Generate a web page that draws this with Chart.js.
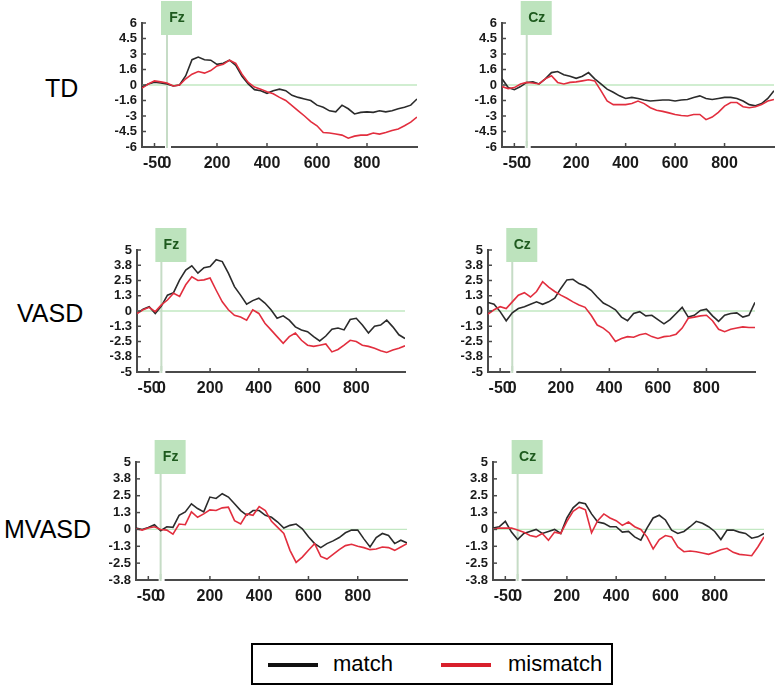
<!DOCTYPE html>
<html><head><meta charset="utf-8">
<script src="https://cdn.jsdelivr.net/npm/chart.js@4.4.0/dist/chart.umd.min.js"></script>
<style>
body{margin:0;background:#fff;width:777px;height:687px;position:relative;overflow:hidden;font-family:"Liberation Sans",Arial,sans-serif;}
canvas{position:absolute;}
.row{position:absolute;font-size:25px;line-height:25px;color:#000;}
#legend{position:absolute;left:251px;top:643px;width:362px;height:42px;border:2px solid #000;box-sizing:border-box;font-size:22px;}
#legend .ln{position:absolute;top:18px;height:4px;width:50px;}
#legend .tx{position:absolute;top:7px;line-height:24px;}
</style></head><body>
<div class="row" style="left:45px;top:76px;">TD</div>
<div class="row" style="left:17px;top:301px;">VASD</div>
<div class="row" style="left:4px;top:517px;">MVASD</div>
<div id="legend">
  <div class="ln" style="left:15px;background:#111;"></div>
  <div class="tx" style="left:80px;">match</div>
  <div class="ln" style="left:188px;background:#d8202c;"></div>
  <div class="tx" style="left:255px;">mismatch</div>
</div>
<script>
// time axis (ms)
const times = [-100,-75,-50,-25,0,25,50,75,100,125,150,175,200,225,250,275,300,325,350,375,400,425,450,475,500,525,550,575,600,625,650,675,700,725,750,775,800,825,850,875,900,925,950,975,1000];

// x tick values and labels
const xTickValues = [-50, 0, 200, 400, 600, 800];
const xTickLabels = ['-50', '0', '200', '400', '600', '800'];

// y ticks
const yTicksTD = [-6, -4.5, -3, -1.5, 0, 1.5, 3, 4.5, 6];
const yLabelsTD = ['-6', '-4.5', '-3', '-1.6', '0', '1.6', '3', '4.5', '6'];
const yTicksVASD = [-5, -3.75, -2.5, -1.25, 0, 1.25, 2.5, 3.75, 5];
const yLabelsVASD = ['-5', '-3.8', '-2.5', '-1.3', '0', '1.3', '2.5', '3.8', '5'];
const yTicksMVASD = [-3.75, -2.5, -1.25, 0, 1.25, 2.5, 3.75, 5];
const yLabelsMVASD = ['-3.8', '-2.5', '-1.3', '0', '1.3', '2.5', '3.8', '5'];

// TD
const tdFzMatch = [-0.2,0.1,0.26,0.2,0.1,-0.1,0,0.9,2.45,2.7,2.45,2.4,2.0,2.1,2.4,1.9,0.85,0.1,-0.45,-0.55,-0.8,-0.55,-0.4,-0.55,-1.0,-1.2,-1.35,-1.5,-1.95,-2.15,-2.5,-2.6,-1.95,-2.3,-2.8,-2.65,-2.6,-2.65,-2.5,-2.6,-2.5,-2.3,-2.15,-1.95,-1.35];
const tdFzMismatch = [-0.3,0.1,0.4,0.3,0.2,-0.1,0,0.6,1.05,1.3,1.15,1.4,1.85,2.0,2.4,2.1,1.05,0.25,-0.2,-0.4,-0.65,-0.85,-1.2,-1.5,-2.0,-2.5,-3.0,-3.55,-3.95,-4.6,-4.65,-4.75,-4.85,-5.15,-4.95,-4.85,-4.85,-4.65,-4.75,-4.6,-4.4,-4.25,-3.95,-3.6,-3.1];
const tdCzMatch = [0.6,-0.25,-0.45,-0.15,0.25,0.3,0.1,0.6,1.2,1.3,1.0,0.85,0.65,0.85,1.2,0.6,0.1,-0.4,-0.7,-1.05,-1.3,-1.2,-1.3,-1.45,-1.55,-1.5,-1.45,-1.45,-1.55,-1.45,-1.4,-1.2,-1.05,-1.3,-1.4,-1.3,-1.2,-1.2,-1.3,-1.55,-1.9,-2.0,-1.8,-1.3,-0.55];
const tdCzMismatch = [-0.15,-0.35,-0.25,0.1,0.25,0.2,0.1,0.6,0.9,0.25,0.1,0.25,0.3,0.4,0.5,0.4,-0.55,-1.55,-1.9,-1.9,-1.9,-1.8,-1.55,-1.8,-2.2,-2.45,-2.55,-2.7,-2.85,-2.95,-3.0,-2.85,-2.85,-3.35,-3.1,-2.65,-2.05,-1.7,-1.7,-2.1,-2.2,-2.1,-1.9,-1.55,-1.4];

// VASD
const vasdFzMatch = [-0.2,0.15,0.35,-0.2,0.4,1.3,1.5,2.55,3.35,3.7,3.1,3.55,3.65,4.2,4.05,3.1,2.0,1.3,0.55,0.85,1.05,0.65,0.1,-0.6,-0.4,-0.75,-1.3,-1.55,-1.7,-2.1,-2.45,-2.05,-1.5,-1.4,-1.55,-0.7,-0.6,-1.15,-1.8,-1.25,-1.15,-0.75,-1.3,-1.95,-2.25];
const vasdFzMismatch = [-0.2,0.1,0.3,-0.05,0.5,0.9,1.45,1.2,2.15,2.8,2.5,2.55,2.7,1.7,0.75,0.1,-0.35,-0.5,-0.75,0.1,-0.2,-1.0,-1.55,-2.1,-2.65,-2.1,-1.8,-2.4,-2.8,-2.9,-2.8,-2.7,-3.35,-3.15,-2.8,-2.4,-2.5,-2.8,-2.9,-3.05,-3.25,-3.4,-3.2,-3.05,-2.85];
const vasdCzMatch = [0.7,0.55,-0.05,-0.8,-0.15,0.2,0.35,0.55,0.75,0.55,0.75,1.05,1.85,2.55,2.6,2.25,2.05,1.7,1.15,0.65,0.4,0.1,-0.5,-0.8,-0.2,-0.05,-0.4,-0.35,-0.7,-1.05,-0.7,-0.2,0.3,-0.5,-0.35,0.05,0.15,-0.4,-0.85,-0.35,-0.2,-0.15,-0.5,-0.35,0.7];
const vasdCzMismatch = [-0.25,0.1,0.35,0.2,0.75,1.3,1.5,1.15,1.6,2.4,1.95,1.6,1.3,1.05,0.75,0.5,0.3,-0.35,-1.15,-1.4,-1.8,-2.5,-2.25,-2.1,-2.15,-1.95,-1.85,-2.1,-2.25,-2.1,-2.05,-1.9,-1.4,-0.6,-0.5,-0.4,-0.35,-0.8,-1.5,-1.7,-1.5,-1.4,-1.3,-1.35,-1.35];

// MVASD
const mvasdFzMatch = [0.1,0,0.15,0.35,-0.1,0.2,0.15,1.05,1.3,1.9,1.55,1.3,2.4,2.3,2.65,2.4,1.9,1.4,1.05,1.4,1.4,1.05,0.9,0.55,0.1,0.3,0.4,0.05,-0.55,-1.05,-1.35,-1.05,-0.85,-0.6,-0.25,-0.05,-0.05,-0.7,-1.3,-0.6,-0.3,-0.45,-1.05,-0.8,-1.0];
const mvasdFzMismatch = [0.05,-0.05,0.1,0.2,0,-0.05,-0.35,0.4,0.35,1.3,0.9,1.15,1.45,1.4,1.6,1.65,0.65,0.4,1.15,1.05,1.7,1.4,0.6,0.15,-0.3,-1.55,-2.45,-2.05,-1.55,-1.05,-2.0,-2.2,-1.85,-1.5,-1.2,-1.1,-1.25,-1.35,-1.5,-1.45,-1.3,-1.35,-1.55,-1.3,-1.05];
const mvasdCzMatch = [0.1,0.2,0.6,-0.2,-0.75,-0.3,-0.15,0,-0.3,-0.15,0,-0.3,0.85,1.6,2.0,1.9,1.15,0.55,0.45,0.2,0.2,-0.2,-0.15,-0.55,-0.8,0.1,0.85,1.05,0.7,-0.05,-0.3,-0.15,0.2,0.6,0.45,0.2,-0.15,-0.75,-0.05,-0.05,-0.2,-0.3,-0.65,-0.55,-0.3];
const mvasdCzMismatch = [0,0.1,0.1,0.1,-0.05,-0.2,-0.45,-0.55,-0.3,-0.8,-0.2,-0.3,0.6,1.35,1.65,1.45,-0.25,0.65,1.15,0.85,0.65,0.3,0.55,0.2,0,-0.55,-1.45,-0.75,-0.45,-0.55,-1.3,-1.65,-1.6,-1.65,-1.75,-1.85,-1.7,-1.5,-1.4,-1.7,-1.85,-1.9,-1.95,-1.3,-0.55];

const panels = [
  {label:'Fz', left:142, top:23, w:275, h:124, yT:yTicksTD, yL:yLabelsTD, min:-6, max:6, m:tdFzMatch, mm:tdFzMismatch},
  {label:'Cz', left:502, top:23, w:272, h:124, yT:yTicksTD, yL:yLabelsTD, min:-6, max:6, m:tdCzMatch, mm:tdCzMismatch},
  {label:'Fz', left:137, top:250, w:268, h:122, yT:yTicksVASD, yL:yLabelsVASD, min:-5, max:5, m:vasdFzMatch, mm:vasdFzMismatch},
  {label:'Cz', left:488, top:250, w:267, h:122, yT:yTicksVASD, yL:yLabelsVASD, min:-5, max:5, m:vasdCzMatch, mm:vasdCzMismatch},
  {label:'Fz', left:136, top:462, w:271, h:118, yT:yTicksMVASD, yL:yLabelsMVASD, min:-3.75, max:5, m:mvasdFzMatch, mm:mvasdFzMismatch},
  {label:'Cz', left:493, top:462, w:271, h:118, yT:yTicksMVASD, yL:yLabelsMVASD, min:-3.75, max:5, m:mvasdCzMatch, mm:mvasdCzMismatch}
];

const YW = 40, XH = 32, TP = 24, RP = 6;
const AXIS = '#4a4a4a';
const FONT = '"Liberation Sans", Arial, sans-serif';

const eegPlugin = {
  id: 'eeg',
  beforeDatasetsDraw(chart, args, opts) {
    const {ctx, chartArea: a, scales: {x, y}} = chart;
    const x0 = x.getPixelForValue(0), y0 = y.getPixelForValue(0);
    ctx.save();
    ctx.fillStyle = '#bde3bd';
    ctx.fillRect(x0 - 6, a.top - 22, 31, 34);
    ctx.strokeStyle = '#c2e8c2'; ctx.lineWidth = 1.3;
    ctx.beginPath(); ctx.moveTo(a.left, y0); ctx.lineTo(a.right, y0); ctx.stroke();
    ctx.strokeStyle = '#c6dcc6'; ctx.lineWidth = 2;
    ctx.beginPath(); ctx.moveTo(x0, a.top + 12); ctx.lineTo(x0, a.bottom + 1); ctx.stroke();
    ctx.fillStyle = '#1e5a1e';
    ctx.font = 'bold 14px ' + FONT;
    ctx.textAlign = 'center'; ctx.textBaseline = 'middle';
    ctx.fillText(opts.label, x0 + 10, a.top - 5);
    ctx.restore();
  },
  afterDraw(chart) {
    const {ctx, chartArea: a, scales: {x, y}} = chart;
    const x0 = x.getPixelForValue(0);
    ctx.save();
    ctx.strokeStyle = AXIS; ctx.lineWidth = 1.5;
    x.ticks.forEach(t => {
      if (t.value === 0) return;
      const px = x.getPixelForValue(t.value);
      ctx.beginPath(); ctx.moveTo(px, a.bottom); ctx.lineTo(px, a.bottom - 4); ctx.stroke();
    });
    y.ticks.forEach(t => {
      const py = y.getPixelForValue(t.value);
      ctx.beginPath(); ctx.moveTo(a.left, py); ctx.lineTo(a.left + 4, py); ctx.stroke();
    });
    ctx.fillStyle = '#fff';
    ctx.fillRect(x0 - 2, a.bottom - 1, 6, 4);
    ctx.strokeStyle = '#c6dcc6'; ctx.lineWidth = 2;
    ctx.beginPath(); ctx.moveTo(x0, a.bottom - 6); ctx.lineTo(x0, a.bottom + 1); ctx.stroke();
    ctx.restore();
  }
};

panels.forEach(p => {
  const c = document.createElement('canvas');
  const W = YW + p.w + RP, H = TP + p.h + XH;
  c.width = W; c.height = H;
  c.style.left = (p.left - YW) + 'px';
  c.style.top = (p.top - TP) + 'px';
  c.style.width = W + 'px'; c.style.height = H + 'px';
  document.body.appendChild(c);
  const toXY = arr => times.map((t, i) => ({x: t, y: arr[i]}));
  new Chart(c, {
    type: 'line',
    data: {datasets: [
      {label: 'mismatch', data: toXY(p.mm), borderColor: 'rgb(226,46,62)', borderWidth: 1.6},
      {label: 'match', data: toXY(p.m), borderColor: '#2b2b2b', borderWidth: 1.6}
    ]},
    options: {
      responsive: false, animation: false, devicePixelRatio: 1,
      layout: {padding: {top: TP, right: RP, left: 0, bottom: 0}},
      elements: {point: {radius: 0}, line: {tension: 0}},
      plugins: {legend: {display: false}, tooltip: {enabled: false}, eeg: {label: p.label}},
      scales: {
        x: {
          type: 'linear', min: -100, max: 1000,
          afterBuildTicks: s => { s.ticks = xTickValues.map(v => ({value: v})); },
          afterFit: s => { s.height = XH; },
          ticks: {autoSkip: false, maxRotation: 0, padding: 7, color: '#1a1a1a',
            font: {family: FONT, size: 16, weight: 'bold'},
            callback: (v, i) => xTickLabels[i]},
          grid: {display: false, drawTicks: false},
          border: {color: AXIS, width: 2}
        },
        y: {
          min: p.min, max: p.max,
          afterBuildTicks: s => { s.ticks = p.yT.map(v => ({value: v})); },
          afterFit: s => { s.width = YW; },
          ticks: {autoSkip: false, padding: 5, color: '#1a1a1a',
            font: {family: FONT, size: 13, weight: 'bold'},
            callback: (v, i) => p.yL[i]},
          grid: {display: false, drawTicks: false},
          border: {color: AXIS, width: 2}
        }
      }
    },
    plugins: [eegPlugin]
  });
});
</script>
</body></html>
